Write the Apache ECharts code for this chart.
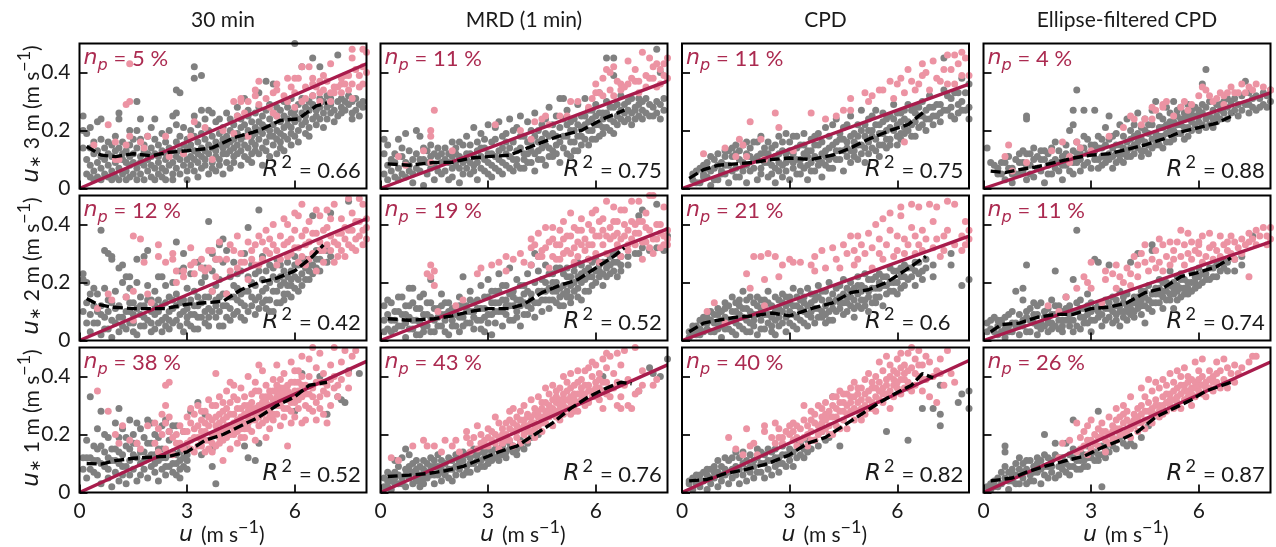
<!DOCTYPE html>
<html><head><meta charset="utf-8">
<style>html,body{margin:0;padding:0;background:#fff}#c{width:1276px;height:547px}</style>
<script src="https://cdn.jsdelivr.net/npm/echarts@6/dist/echarts.min.js"></script></head>
<body><div id="c"></div>
<script>
// Scatter data. Row k holds the u* values (in 0.01 m/s) of points at u = (k+1)/10 m/s.
const grey_3m_30 = [[25,20,14],[19,10,5],[21,14,8,4],[12,6,3,16],[23,9,4,13],[24,17,7,3,11],[14,5,10],[12,4,8,16],[6,3,11,15],[13,9,4,18],[26,24,7,14,3],[10,5,16,12],[6,13,3,9],[20,11,4,8,15],[9,5,12,17],[30,20,7,14,3],[24,11,5,17,9],[8,13,3,15],[10,6,18,12],[14,4,8,11,21],[24,7,12,17,3],[9,15,5,11],[13,4,7,19],[10,6,16,12,3],[8,14,11,20],[25,5,9,13,3],[26,22,34,7,16,11],[33,10,13,5,18],[8,15,12,21],[6,10,14,3,17],[11,8,15,20],[42,38,25,6,13,18,10],[9,16,12,4,22],[39,27,11,7,14,19],[8,13,17,10,24],[27,5,12,15,20],[26,9,14,18,7],[11,16,23,13,6],[24,8,15,19,10],[12,17,5,21,14],[9,15,26,18,12],[7,13,20,16,24],[11,17,9,22,14],[28,15,19,12,25],[8,13,21,17,24],[31,11,18,15,22],[10,14,20,27,25],[16,12,23,18,9],[21,15,26,13,19],[33,17,23,28,12,20],[14,19,25,22,8],[37,16,21,27,13],[18,24,11,29,20],[36,15,22,26,18],[12,20,25,28,17],[16,23,19,27,14],[21,25,18,30,13],[17,24,28,22],[19,26,21,31,15],[23,18,27,25,50],[20,29,24,16],[42,22,26,31],[19,25,28,23],[21,27,30,18],[45,24,29,32],[22,27,25],[42,28,24,31],[26,30,21],[28,24,32],[26,29,31],[27,23],[46,30,25],[28,26,31],[30,27],[29,32],[26,30,24],[31,27],[29,25],[28,30],[]];
const pink_3m_30 = [[],[],[],[15],[],[],[],[22],[],[16,10],[10],[],[29,15],[30,18,43],[],[],[16],[14],[18],[],[],[],[],[18],[11],[],[],[],[12],[],[18],[23],[],[],[21],[],[10],[],[],[20],[],[],[30,19],[25],[30,31],[26],[30,18],[],[34,32],[37,29],[],[31],[28],[26,33],[36,34,25],[],[32],[38,30],[35],[38,33,28],[38],[42,30],[35,31],[42],[38,32,36],[35],[33,30,37],[39,34],[37],[43,30,33],[35,33],[35],[33,38,36],[36,39],[34,39],[36,45,31,48],[41],[39,35],[48,42,36],[47,40]];
const grey_3m_mrd = [[17,12,5],[15,8,3],[10,6],[9,4,12],[17,3,7],[14,11,5],[19,4,9],[8,13,6],[2,10,5],[20,12,7],[18,6,10],[10,1,14],[13,5,9],[15,7,11],[8,3,12],[11,6,14],[5,9,12],[14,6,10],[9,3,12],[16,7,4,11],[12,8,14],[7,2,11,16],[15,5,9],[18,10,7,12],[12,5,9,15],[21,8,11,6],[16,3,9,13],[19,11,7,14],[14,6,10,17],[22,9,12,5],[12,4,8,16],[17,7,11,21],[23,10,13,6],[14,5,9,18],[19,8,12,16],[24,11,7,14],[16,6,10,20],[21,10,13,8],[25,14,7,18],[18,7,12,10],[23,12,9,16],[16,9,13,20],[26,6,12,18],[20,13,10,16],[17,10,14,22],[24,8,15,19],[28,14,11,18],[19,11,13,22],[25,15,18,12],[21,9,16,31],[31,14,18,24],[27,18,12,22],[23,11,16,20],[20,16,24,13],[29,13,18,22],[25,18,15,21],[31,22,17,25],[27,15,20,23],[24,20,17,27],[29,17,22,25],[33,22,18,26],[26,21,24,19],[45,30,21,26],[24,20,28],[39,45,19,28,23],[25,22,29],[32,24,27],[29,23,26],[27,24,30],[31,26,22],[24,28,27],[29,25,31],[27,24,30],[31,26],[25,29],[28,25],[48,30,26],[40,24,29],[27,31],[]];
const pink_3m_mrd = [[],[],[],[],[11],[],[8],[],[],[],[],[13],[],[9,18,20],[27],[],[],[],[],[13],[],[],[],[],[],[],[],[],[],[],[],[22],[],[],[],[],[],[],[20],[],[],[17],[23],[],[24],[25],[22],[],[],[25],[],[25],[30],[],[30],[],[],[28],[31],[33,36],[33],[32,38],[41],[34,40],[32,42],[37],[34,36],[35],[36,44],[38],[41,37],[33,37],[47],[35,39],[38,45],[38,42],[35,43],[36,41],[43,39],[38,45]];
const grey_3m_cpd = [[],[],[3,5],[6,2],[2,7],[8,4,5],[4,9,7],[11,1,6],[7,3,10],[12,3,8],[9,5,6],[13,5,11,8],[2,8,13],[11,6,14],[7,15,12,4],[4,13,10],[9,15,6],[16,12,2,8],[6,14,11],[10,16,7],[3,16,11],[7,12,18,5],[14,9,12],[4,9,12,16],[14,8,5],[2,11,7,15],[18,6,12,9],[13,8,4,16],[9,19,12,6],[3,16,10,13],[7,12,18,9],[18,14,5,10],[5,10,15,8],[15,19,7,12],[3,8,13,11],[13,9,17,6],[6,18,11,15],[10,15,8,19],[4,12,16,9],[8,21,13,11],[14,18,7,10],[7,11,15,22],[16,24,10,13],[10,19,13,17],[13,6,17,21],[22,16,11,14],[9,25,13,18],[13,19,16,11],[10,22,15,18],[15,27,12,20],[9,18,14,22],[12,24,16,20],[20,14,18,25],[27,17,13,22],[11,22,19,15],[19,26,15,23],[14,24,20,17],[21,17,25,15],[29,20,24],[22,15,18,26],[26,19,23,17],[24,21,27,19],[20,29,23],[27,22,18],[23,18,28,26],[25,21,28],[22,30,25],[27,24,20],[24,32,28],[28,25,22],[25,29],[29,26,23],[45,34,27],[32,27],[28,25,31],[24,33],[33,29,26],[38,30,27],[27,33],[36,28,24]];
const pink_3m_cpd = [[],[],[],[],[],[12],[],[],[],[],[],[14],[],[],[11],[17],[15],[11],[23],[],[],[17],[10],[],[],[26],[21],[],[],[],[13],[],[],[],[],[26],[],[],[],[24],[],[],[25],[],[27],[],[27,31],[],[],[],[33],[30],[32],[],[34],[34],[],[37],[31],[36],[38],[33,16],[41],[37],[34],[36],[43,39],[40],[34],[44],[38],[37],[41],[46,36],[41],[36,46],[43],[47,39],[45],[39]];
const grey_3m_ell = [[14],[9],[8],[7,5],[5,9],[3,9],[11,7],[7,2,5],[10,5],[5,12,9],[9,13,6],[3,12,24,25,8],[8,12,5],[14,4,10],[11,7],[6,13,10],[10,2,13],[12,8,5],[14,5,9],[10,16,7],[6,13,9],[11,3,8],[15,8,12],[10,20,6],[5,13,27,22,9],[9,16,34,12],[6,12,10,14],[14,18,27,8],[9,17,12],[7,12,15],[15,27,10,13],[10,18,7,14],[14,8,11,17],[21,11,15,9],[17,25,12,10],[7,14,11,18],[19,12,9,15],[22,15,12,10],[9,18,14,12],[13,24,16,11],[17,11,14,20],[22,15,12,18],[19,26,14,16],[13,21,17,11],[16,24,13,20],[12,19,15,22],[27,22,17,14],[15,30,19,17],[18,25,15,21],[21,14,18,24],[28,19,16,22],[23,16,20,26],[20,30,17,23],[25,19,22,27],[22,28,19,24],[17,24,21,26],[21,29,18,25],[25,20,23,27],[28,22,25],[23,27,20,25],[36,26,22,29],[24,41,28,21],[30,25,22],[21,27,24],[25,29,23],[29,24,27],[26,30],[31,24,28],[30,26],[27,31],[25,29],[32,27],[37,29],[29,26,33],[31,28],[27,32],[31,28],[29,33],[32,28],[30,34]];
const pink_3m_ell = [[],[],[],[],[],[11],[15],[6],[],[],[],[9],[],[],[],[],[],[],[13],[],[],[16],[],[11,9],[],[16],[14],[],[],[13],[],[],[],[],[18],[],[],[],[21],[],[25],[24],[],[22],[24],[],[24,28],[27],[],[28,29],[30],[],[25],[],[28],[30],[27],[29],[],[32],[35],[34],[32],[30],[31],[33],[29,32],[33],[35],[33],[33],[36],[33],[35],[34],[36],[],[35],[],[34]];
const grey_2m_30 = [[23,21,10],[20,13,6],[9,3,16],[6,12,18],[16,6,10],[2,12,38,9],[18,8,31,4],[4,14,30,10],[29,28,1,7,13],[17,6,11],[25,12,3,8],[26,20,8,5],[15,4,10,22],[10,18,6,22,13],[6,13,9,3],[28,20,2,11],[9,15,5,12],[29,5,12,8],[31,19,7,14],[14,3,10,6],[17,9,4,12],[22,6,10,14],[12,22,7,3],[19,8,13,5],[15,4,10,7],[11,20,6,14],[34,7,16,12],[13,24,9,5],[30,25,3,10,14],[18,6,11,8],[14,23,9,5],[17,9,12,4],[27,4,12,8,15],[20,8,13,25],[15,22,25,10,6],[5,11,41,15,8],[17,24,30,10],[8,14,28,12,19],[33,21,10,5,15],[35,27,5,16,12],[16,12,31,8],[22,7,15,11],[15,27,9,19],[18,10,14,23],[13,24,8,16],[30,7,17,12],[39,17,22,10],[26,12,15,20],[19,9,14,23],[45,24,15,11],[29,21,13,17],[11,18,24,14],[26,14,20,10],[22,10,17,25],[17,28,13,21],[22,13,19,26],[20,16,24,14],[27,16,22,19],[24,19,15,21],[29,22,18,26],[17,26,21],[23,28,19],[28,21,25],[21,26,24],[43,26,23],[31,25,28],[28,24,31],[],[27,31],[44,29],[],[],[],[],[48],[],[],[],[],[]];
const pink_2m_30 = [[],[],[],[],[11],[],[],[16],[14],[],[],[],[15],[],[36,17,7],[],[35],[27],[16],[13],[],[33,29],[],[27],[],[30,28],[20,24],[],[22,24],[],[26,32],[23,27],[],[28,25],[24],[25,31],[31,17],[28,22],[28,34],[],[28,16],[33,24],[31],[25,36],[30,27],[27],[34,21],[28,31],[33,26],[26,36],[28,34],[31,38],[35,30],[33,40],[31,26],[36,28],[42,33],[40,34,29],[35,30],[38,44,32],[43,32,27],[36,29,47],[26,33,38],[34,41,28],[30,37],[37,24,45],[43,31,34],[31,38,27],[45,39,33],[36,31,42],[27,47,34],[33,37,29],[42,37,31],[29,39,35],[33,49,38],[38,44,32],[31,35,41],[41,36,49],[47,33,38],[39,42,35]];
const grey_2m_mrd = [[7,3,12],[4,9,14],[13,3,7],[7,10,4],[10,5,15],[15,5,9],[1,9,6,12],[12,4,18,8],[18,4,7,13],[7,2,11],[2,11,6,15],[16,5,9,3],[5,9,13],[13,21,3,8],[3,7,11],[11,5,8],[16,5,12,9],[9,3,13,7],[13,2,10],[7,11,5],[11,5,9],[15,3,8,12],[8,12,22,5],[12,6,10],[6,17,10,14],[10,4,13,8],[14,7,11],[19,7,11,4],[11,3,15,8],[15,9,21,6],[9,13,2,17],[13,6,17,10],[17,10,23,13],[10,5,14,19],[14,19,9,12],[12,25,16,7],[7,17,12,15],[10,21,14,8],[14,5,19,12],[19,9,13,16],[23,12,17,9],[16,26,11,14],[30,8,20,13],[29,13,24,17],[10,17,21,14],[20,26,14,17],[14,11,23,18],[23,17,20,14],[20,13,25,17],[25,15,18,12],[19,12,23,16],[22,17,15,25],[15,19,22,13],[24,20,17,26],[18,22,15,27],[26,14,20,23],[21,17,24],[25,17,22,28],[22,27,19],[28,24,20],[24,22,26],[19,27,23],[27,25,22],[26,23,29],[30,24,27],[22,27,30],[26,29,24],[],[29,26],[],[30],[43,30],[45,32],[],[31],[],[47,32],[],[31],[36]];
const pink_2m_mrd = [[],[],[],[],[],[],[],[],[],[],[],[],[23],[26,22],[24,19],[10],[],[],[],[],[12],[],[14],[],[],[],[23],[25],[],[],[26],[],[27],[],[24,29],[],[28],[],[30],[27],[],[35,26,32],[33],[37,29],[29,31],[39,32],[25,34],[39,35,29],[28,33],[33,38,28],[41,30,35],[36,31],[30,44,36],[39,32,27],[34,29,38],[42,38,33],[31,35],[40,33,28],[38,33,44],[45,30,36],[36,41,27],[42,33,38],[48,30,36],[39,35],[36,46,41],[33,41,37],[29,45,35],[45,36,40],[31,38,33],[48,35,41],[40,33,37],[48,37,41],[41,34,28],[44,34,39],[38,50,32],[50,30,35],[35,40],[40,32,37],[36,46,33],[33,38,35]];
const grey_2m_cpd = [[],[1,3],[3,5],[5,2,4],[7,4,2],[6,8,3],[4,8,6],[7,10,3],[3,9,6],[6,11,4,9],[1,10,5,7],[8,13,4,11],[4,12,7],[7,15,3,10],[2,10,6,13],[14,5,9,12],[8,17,4,11],[11,3,7,14],[15,6,3,10],[9,13,5,7],[2,15,9,12],[7,11,4,14],[14,4,9,12],[17,9,6,13],[12,5,8,3],[15,2,10,7],[8,14,5,11],[10,16,6,13],[3,12,8,15],[6,15,10,13],[9,18,5,12],[4,12,8,15],[17,7,11,14],[10,15,6,13],[18,5,9,12],[8,13,10,16],[6,16,11,14],[11,19,8,15],[8,14,10,17],[17,6,12,9],[10,20,14,7],[13,7,16,11],[18,10,14],[11,15,13,19],[9,21,16,13],[13,18,10,15],[12,20,17,15],[8,14,18,11],[16,22,12,19],[11,19,14,17],[14,23,18,12],[17,10,21,15],[21,13,18],[18,15,22,13],[15,23,18,20],[19,12,22],[22,16,19],[17,25,20],[20,17,24],[24,16,20],[22,18,25],[26,22,19],[21,25],[25,22],[19,27,24],[27,23],[24,21],[28,25],[],[22,26],[],[],[],[],[30,26],[],[],[19],[],[21]];
const pink_2m_cpd = [[],[],[],[],[],[],[10],[],[13],[],[],[6],[],[],[],[],[],[23],[18],[29],[],[29],[12,21],[30],[],[29],[22],[26],[],[28],[27],[],[27],[],[],[26],[24,29],[],[31],[25],[],[32],[28],[25],[33],[30],[36],[31,26],[36,28],[33],[30],[37],[25,32],[40],[30,35],[42,28],[33],[38,44],[29],[31,36],[43,46],[30,35],[33],[47,39],[30,36],[33,46],[38,31],[35],[47],[32,41],[35,46],[29],[31,36],[48,38],[54],[33,47],[52],[31,36],[33,41],[38,35]];
const grey_2m_ell = [[6,3],[4,7],[3,8],[2,7,5],[7,3,6],[8,1,4],[5,3,9],[3,10,6],[6,17,5],[9,2,5],[5,14,18,7],[8,26,3,10],[3,11,7],[6,13,9],[9,2,5,12],[13,6,4],[5,10,8],[8,3,6,11],[14,6,9,4],[9,24,5,12],[4,12,7],[7,3,10,5],[11,15,7],[5,9,12,7],[7,3,10,21],[13,10,38,5],[4,14,8,11],[8,11,6],[6,16,9,12],[3,10,7,13],[7,28,11],[12,27,8,10],[5,9,13],[14,7,11],[11,26,8,13],[6,15,10],[9,12,7,14],[5,17,10,12],[10,13,8,15],[7,16,12,10],[11,27,13,9],[8,13,15,10],[15,30,11,13],[9,17,12,14],[12,6,15,17],[14,19,11],[31,33,10,16,13],[16,13,18],[13,21,16,18],[17,11,20,15],[20,14,17],[14,24,19,16],[16,11,20,18],[19,22,17,14],[15,23,18,21],[18,21,16],[16,20,18],[20,24,17],[18,22,20],[22,25,19],[20,23],[23,21],[21,25],[25,22],[22,26],[28,24],[25,27],[27,24],[],[24,28],[],[29,26],[],[],[36],[],[],[],[],[]];
const pink_2m_ell = [[],[],[],[],[],[],[],[],[],[],[],[],[],[],[],[],[],[12],[],[],[10],[],[15],[],[],[18],[],[22],[20],[27,18],[],[],[13],[24,21],[],[23],[18,26],[22],[20],[25],[23,19],[29],[26,22],[30],[33,27],[24],[28],[31,25],[27,35],[33,24],[29],[34,26],[31,28],[34],[29,38],[33,26],[30,37],[34,28],[31],[33,30,34],[36,27],[29],[32,37],[28,33],[31],[36,29],[33],[31,34],[30,36],[28,34],[32],[35,30],[33],[34,37,22],[35],[38,33],[36],[39],[36,33],[39,35]];
const grey_1m_30 = [[8,12],[18,5,12],[33,12,8],[16,7,11],[22,15,11,6],[28,3,10,16],[20,14,9],[19,5,12,8],[11,2,15],[24,7,15,11],[29,4,10,19,14],[22,6,13,9],[16,3,9,19],[25,11,6,15],[13,20,8,17],[4,17,24,12],[22,10,6,14],[14,19,8,11],[12,25,5,17],[9,17,24,13],[7,13,10,20],[4,11,19,15],[8,15,23,12],[6,12,25,9],[9,18,21,13],[7,14,23,10],[10,23,6,13],[5,11,14,8],[9,21,12],[8,13,11,15],[28],[],[31],[13],[27],[],[15,9],[3],[],[],[],[],[],[],[],[16],[12],[],[11],[17],[],[],[],[],[],[],[],[],[],[28],[],[41],[],[],[],[],[40],[],[27],[],[],[33],[32],[31],[42],[],[],[41],[],[]];
const pink_1m_30 = [[],[],[],[],[35],[],[],[28],[],[20],[17],[23],[],[18],[],[17],[15],[],[23],[],[24,17],[22,14],[20,27],[15,24,37,30],[38,26,21],[19,13],[20,17],[23,17],[15,21],[21,26,17],[18,29,15,24],[22,14,19,27],[19,30,23,16],[25,16,21,28,18],[21,28,18,24,14],[18,23,26,32,15],[14,30,20,25,17],[26,20,41,30,23,16],[17,24,33,21,27,19],[11,28,22,25,31,18],[35,19,26,23,29,21],[15,31,23,27,38,20],[27,20,37,24,33,22],[25,32,17,21,29,23],[29,22,36,26,19,24],[19,27,33,24,30,22],[24,30,40,26,22,28],[21,28,34,31,25,29],[25,38,18,29,35,27],[30,23,35,27,44,26],[27,33,42,24,31,29],[25,31,37,19,28,33],[28,35,22,33,30,26],[30,39,25,35,27,32],[33,27,44,30,37,35],[30,36,23,34,39,32],[32,41,26,29,36,34],[29,37,16,34,32,35],[34,45,24,38,31,28],[31,38,26,35,42,33],[35,42,29,32,38],[33,47,24,37,40],[37,30,25,34],[40,34,46,29],[28,36,50,33],[31,43,25,38],[38,33,48,29],[35,41,27,38],[37,24,34],[44,30,39],[40,50,36],[37,33],[45,39],[49],[36,41],[47],[49],[],[],[]];
const grey_1m_mrd = [[2,5],[4,7,2],[1,6,4],[3,7,11,5],[3,9,6],[5,12,3],[2,8,15,6],[5,13,9,7],[7,3,10],[8,4,11,6],[6,9,2,4],[3,8,11,5],[5,10,7],[6,12,9],[3,9,11,6],[6,13,9],[4,8,11,7],[10,6,7],[12,8,5],[4,11,8],[13,9,6],[11,8,10],[14,6,11],[9,13,7],[7,12,10],[10,15,13],[13,8,11],[11,9,14],[9,14,12],[12,10,15],[14,11,13],[12,15],[11,15,13],[13,16],[12,14],[15,17],[14,16],[13,15],[16,18],[15],[17],[19],[],[20],[],[],[28],[],[],[],[],[],[],[],[],[],[],[],[],[],[],[40],[],[],[],[],[],[],[],[],[],[35],[],[],[43],[41],[],[40],[],[46]];
const pink_1m_mrd = [[],[],[12],[],[11],[],[],[],[16],[],[],[18],[16],[],[16],[],[14],[18],[],[16],[18],[14],[],[21,19],[17,14],[19],[15,23],[20,17],[18,16],[16,22,19],[18,21],[20,26,17],[15,24,19],[17,22,20],[20,18,24],[25,28,18,22],[21,16,29,24],[23,19,26,21],[17,28,22,25],[25,20,30,23],[23,18,27,21,26],[26,32,21,24],[29,24,19,27,22],[28,23,33,26],[26,21,31,29,24],[28,36,24,31,26],[30,26,34,28],[23,29,37,32,27],[26,33,31,28,35],[28,36,25,32,30],[30,34,40,27,32],[29,38,32,35],[27,36,41,31,33],[32,37,30,34,28],[42,34,28,38,31],[39,32,36,34],[34,42,30,37],[37,31,43,35],[35,40,45,33],[33,38,44,36],[32,36,41,39],[35,46,29,38],[38,43,48,34],[33,47,36],[36,41],[30,38,48],[33,44,29],[37,49],[39,30],[29],[34,50],[35],[37,42],[],[],[37],[39],[],[],[]];
const grey_1m_cpd = [[],[3,4],[1,5],[3,6],[2,6,4],[4,7],[1,6,8],[3,8,5],[5,9,7],[2,7,11],[4,9,6],[6,12,8],[3,11,7],[8,5,12],[9,14,6],[3,12,8],[6,10,14],[8,4,11],[13,7,9],[9,5,11],[12,15,7],[7,14,10],[10,5,13],[8,15,11],[11,6,14],[9,15,12],[7,12,10],[10,16,13],[13,9],[11,15,13],[9,14],[18,12],[13,17],[12,15],[18,14],[15],[18],[16],[21],[18],[19],[33],[],[16],[],[],[],[],[],[],[],[],[],[],[],[],[21],[],[],[],[],[],[36,18],[],[],[],[29],[],[],[29],[],[37,23,27],[],[],[],[],[31],[34],[],[29,35]];
const pink_1m_cpd = [[],[],[],[],[],[],[],[],[],[],[],[],[19],[],[15],[],[13],[22],[16],[17],[13],[],[23,21],[],[19],[17,24],[22,19],[19,17],[21],[20,23],[24,18,21],[16,19,23],[22,18],[19,30,25],[20,16,23],[25,21,28,18],[18,27,24],[23,30,20],[26,21,29,24],[25,31,22,27],[28,23,26,20],[20,30,26,33],[26,33,29,23],[28,22,35,31],[31,25,28,34],[34,27,22,30],[31,36,28,33],[29,25,38,33],[34,28,31,36],[32,36,25,29],[30,39,27,34],[35,32,41,29],[29,36,31,38],[40,33,28,36],[38,35,45,32],[31,42,36,34],[34,39,47,37],[35,44,29,40],[39,33,37,42],[46,36,41,38],[34,48,39,43],[44,36,41,39],[48,38,42],[43,50,35],[46,41,37],[49,40,44],[44,35,39],[47,39],[45,33],[40],[42,31],[46,41],[37],[49],[41],[38],[],[],[],[]];
const grey_1m_ell = [[2],[3,1],[4,2],[2,5],[3,7],[5,9,16,14],[1,7,4],[4,8,6],[6,10,3],[3,8,12],[5,10,7],[8,3,11],[6,11,4],[4,9,7],[7,12,10],[3,11,8],[6,13,20,9],[9,5,12],[7,11,9],[13,5,17],[9,6,12],[8,12,10],[10,17,7],[6,13,9],[9,15,25,12],[11,8,14],[8,14,11],[11,13,9],[9,16,12],[12,14],[14,17,11],[11,28,13],[2,13,16],[15,12],[14,17],[16],[15],[19],[17],[16],[17],[16],[],[19],[],[23],[],[],[],[],[],[],[],[],[],[],[],[],[],[],[],[],[],[],[],[],[],[],[],[],[],[],[],[],[],[],[],[],[],[]];
const pink_1m_ell = [[],[],[],[],[],[],[],[],[],[],[],[],[],[],[],[],[],[],[],[],[12],[17],[],[18],[],[14,24],[19,15],[16,21],[13,23,18],[18,25,15],[20,17],[16,22,19],[19,24,21],[14,21,18],[26,17,20],[23,19,21],[25,18,29,22],[22,26,20],[20,24,30,27],[21,28,25],[24,19,33,22],[27,23,25],[26,21,24,29],[30,24,36,27],[28,22,33,25],[31,25,39,28],[29,24,35,27],[32,27,38,30],[30,26,36,28],[33,27,39,30],[31,37,28,34],[34,30,41,32],[32,38,29,35],[36,31,42,33],[34,40,29,37],[37,32,43,35],[35,40,33,38],[39,36,30,34],[38,33,45,36],[35,42,37,39],[40,34,46,37],[38,33,36],[42,36,39],[40,35,38],[45,38,41],[42,36],[39,46],[43,36],[41],[38,44],[41],[43],[],[45],[47],[47],[],[],[],[]];

// Dashed binned medians, [u, u*]
const med_3m_30 = [[.2,.145],[.6,.115],[1,.11],[1.5,.12],[2,.113],[2.5,.125],[3,.13],[3.7,.14],[4.3,.175],[5,.2],[5.6,.235],[6.1,.24],[6.6,.285],[6.9,.295]];
const med_3m_mrd = [[.2,.085],[.8,.08],[1.5,.09],[2,.09],[2.5,.105],[3,.11],[3.6,.115],[4.1,.14],[4.95,.18],[5.6,.2],[6.2,.24],[6.8,.27]];
const med_3m_cpd = [[.2,.035],[.6,.065],[1,.08],[1.5,.085],[2,.09],[2.5,.1],[3,.105],[3.6,.1],[4.2,.115],[4.7,.14],[5.2,.17],[5.8,.2],[6.3,.22],[6.8,.27]];
const med_3m_ell = [[.2,.06],[.6,.055],[1,.065],[1.5,.075],[2,.09],[2.5,.105],[3,.115],[3.5,.12],[4,.135],[4.5,.15],[5,.17],[5.5,.195],[6,.21],[6.5,.225],[7,.255]];
const med_2m_30 = [[.2,.145],[.5,.125],[.9,.115],[1.5,.11],[2,.11],[2.4,.11],[3,.125],[3.5,.13],[4,.135],[4.5,.175],[5,.2],[5.5,.215],[6,.24],[6.5,.29],[6.8,.33]];
const med_2m_mrd = [[.2,.075],[.8,.07],[1.5,.075],[2,.085],[2.5,.1],[3,.11],[3.6,.11],[4,.125],[4.5,.165],[5,.19],[5.5,.21],[6,.25],[6.5,.29],[6.8,.32]];
const med_2m_cpd = [[.2,.03],[.6,.06],[1,.07],[1.5,.08],[2,.085],[2.5,.095],[3,.085],[3.6,.11],[4.2,.13],[4.7,.165],[5.2,.175],[5.7,.2],[6.2,.24],[6.8,.29]];
const med_2m_ell = [[.2,.03],[.5,.055],[1,.06],[1.5,.08],[2,.09],[2.5,.09],[3,.11],[3.5,.115],[4,.13],[4.5,.165],[5,.18],[5.5,.22],[6,.235],[6.5,.255],[6.9,.285]];
const med_1m_30 = [[.2,.1],[.6,.098],[1,.11],[1.5,.118],[2,.122],[2.5,.125],[3,.14],[3.5,.18],[4,.2],[4.5,.23],[5,.26],[5.5,.3],[6,.33],[6.4,.37],[6.9,.38]];
const med_1m_mrd = [[.2,.055],[.8,.06],[1.3,.065],[1.8,.075],[2.3,.09],[2.8,.115],[3.3,.14],[3.8,.16],[4.3,.2],[4.8,.24],[5.3,.29],[5.8,.33],[6.3,.36],[6.7,.38],[7,.375]];
const med_1m_cpd = [[.2,.04],[.7,.045],[1.2,.065],[1.8,.08],[2.4,.1],[3,.13],[3.5,.17],[4,.19],[4.5,.23],[5,.27],[5.5,.31],[6,.345],[6.4,.37],[6.7,.41],[7,.395]];
const med_1m_ell = [[.2,.04],[.8,.05],[1.2,.07],[1.7,.09],[2.3,.11],[2.8,.125],[3.3,.155],[3.8,.18],[4.3,.21],[4.8,.26],[5.3,.29],[5.8,.32],[6.2,.35],[6.9,.38]];

const columnTitles = ['30 min','MRD (1 min)','CPD','Ellipse-filtered CPD'];
const rowHeights = ['3','2','1'];
const npValues = [[5,11,11,4],[12,19,21,11],[38,43,40,26]];
const r2Values = [['0.66','0.75','0.75','0.88'],['0.42','0.52','0.6','0.74'],['0.52','0.76','0.82','0.87']];
const fitAt8 = [[.43,.37,.36,.33],[.42,.385,.36,.34],[.452,.44,.455,.45]];
const xTicks = [0,3,6];
const yTicks = [0,.2,.4];
const greys = [[grey_3m_30,grey_3m_mrd,grey_3m_cpd,grey_3m_ell],[grey_2m_30,grey_2m_mrd,grey_2m_cpd,grey_2m_ell],[grey_1m_30,grey_1m_mrd,grey_1m_cpd,grey_1m_ell]];
const pinks = [[pink_3m_30,pink_3m_mrd,pink_3m_cpd,pink_3m_ell],[pink_2m_30,pink_2m_mrd,pink_2m_cpd,pink_2m_ell],[pink_1m_30,pink_1m_mrd,pink_1m_cpd,pink_1m_ell]];
const medians = [[med_3m_30,med_3m_mrd,med_3m_cpd,med_3m_ell],[med_2m_30,med_2m_mrd,med_2m_cpd,med_2m_ell],[med_1m_30,med_1m_mrd,med_1m_cpd,med_1m_ell]];

const SANS = 'Lato', MATH = '"DejaVu Sans"';
const RED = '#ab2a50', FIT = '#a81c4c', PINK = '#ec93a3', GREY = '#808080', INK = '#1a1a1a';
const lefts = [79.5,380.5,682,983.5], tops = [43.5,195.5,347.5], W = 287, H = 145;
const pairs = rows => { const o = []; rows.forEach((ys,k) => ys.forEach(y => o.push([(k+1)/10, y/100]))); return o; };

const ctx = document.createElement('canvas').getContext('2d');
function run(x, y, parts, color, rot) {
  let cx = 0; const kids = [];
  for (const p of parts) {
    const font = (p.it ? 'italic ' : '') + p.s + 'px ' + (p.it ? MATH : SANS);
    ctx.font = font;
    kids.push({type:'text', x:cx, y:p.dy||0, silent:true, style:{text:p.t, font, fill:color||INK, align:'left', verticalAlign:'middle'}});
    cx += ctx.measureText(p.t).width + (p.gap||0);
  }
  if (rot) { for (const k of kids) k.x -= cx/2; }
  return {type:'group', x, y, rotation: rot||0, silent:true, z:50, children:kids};
}

const grid=[], xAxis=[], yAxis=[], series=[], graphic=[];
for (let r=0;r<3;r++) for (let c=0;c<4;c++) {
  const i = grid.length;
  grid.push({left:lefts[c], top:tops[r], width:W, height:H});
  const tick = {show:true, inside:true, length:8, lineStyle:{color:'#000', width:1.7}};
  xAxis.push({type:'value', gridIndex:i, min:0, max:8, z:6, splitLine:{show:false}, axisLine:{show:false},
    axisTick:{...tick, customValues:xTicks},
    axisLabel:{show:r===2, customValues:xTicks, margin:8, fontFamily:SANS, fontSize:21, color:INK, formatter:v=>String(v)}});
  yAxis.push({type:'value', gridIndex:i, min:0, max:.5, z:6, splitLine:{show:false}, axisLine:{show:false},
    axisTick:{...tick, customValues:yTicks},
    axisLabel:{show:c===0, customValues:yTicks, margin:9, fontFamily:SANS, fontSize:21, color:INK, formatter:v=>String(v)}});
  const sc = (name,d,col)=>({name, type:'scatter', xAxisIndex:i, yAxisIndex:i, data:pairs(d), symbolSize:7, silent:true, itemStyle:{color:col,opacity:1}, z:2, clip:true});
  series.push(sc('below',greys[r][c],GREY), sc('above',pinks[r][c],PINK));
  series.push({name:'fit', type:'line', xAxisIndex:i, yAxisIndex:i, data:[[0,0],[8,fitAt8[r][c]]], showSymbol:false, silent:true, lineStyle:{color:FIT,width:3.4}, z:3});
  series.push({name:'median', type:'line', xAxisIndex:i, yAxisIndex:i, data:medians[r][c], showSymbol:false, silent:true, lineStyle:{color:'#000',width:3.4,type:[10,4]}, z:4});
  graphic.push({type:'rect', silent:true, z:40, shape:{x:lefts[c],y:tops[r],width:W,height:H}, style:{fill:'none',stroke:'#000',lineWidth:2}});
  graphic.push(run(lefts[c]+4, tops[r]+15, [{t:'n',s:22,it:1},{t:'p',s:16,it:1,dy:7,gap:6},{t:'= '+npValues[r][c]+' %',s:22}], RED));
  graphic.push(run(lefts[c]+183, tops[r]+127, [{t:'R',s:23,it:1,gap:3},{t:'2',s:18,dy:-8,gap:7},{t:'= '+r2Values[r][c],s:22}], INK));
  if (r===2) graphic.push(run(lefts[c]+W/2-44, 535, [{t:'u',s:22,it:1,gap:8},{t:'(m s',s:21},{t:'−1',s:18,dy:-8},{t:')',s:21}], INK));
}
columnTitles.forEach((t,c)=>graphic.push(run(lefts[c]+W/2, 20, [{t,s:21}], INK, 0.0001)));
rowHeights.forEach((h,r)=>graphic.push(run(32, tops[r]+H/2-2, [{t:'u',s:23,it:1},{t:'∗',s:15,dy:3,gap:6},{t:h+' m ',s:21},{t:'(m s',s:21},{t:'−1',s:18,dy:-8},{t:')',s:21}], INK, Math.PI/2)));

const chart = echarts.init(document.getElementById('c'), null, {renderer:'canvas'});
chart.setOption({animation:false, backgroundColor:'#fff', tooltip:{show:false}, grid, xAxis, yAxis, series, graphic});
</script></body></html>
